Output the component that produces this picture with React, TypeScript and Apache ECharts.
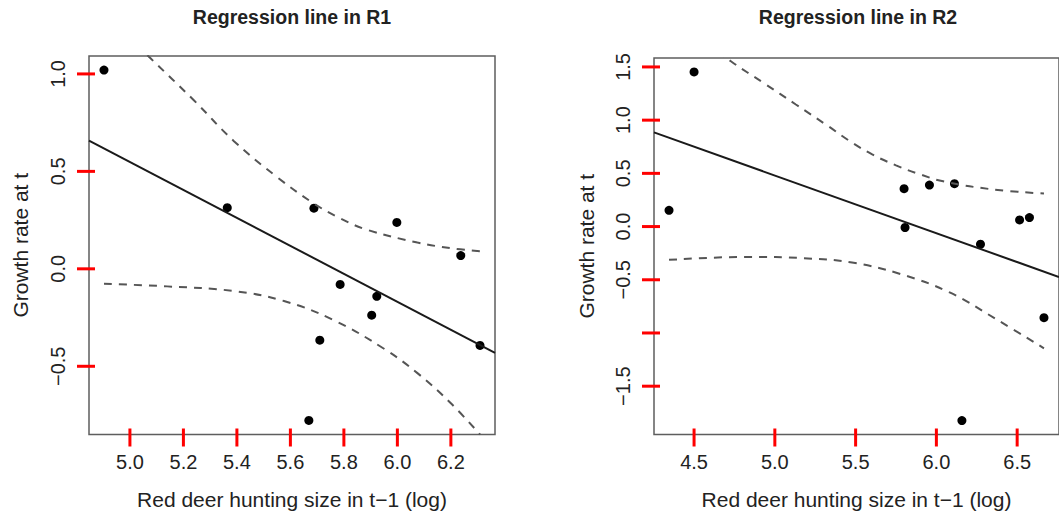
import { useEffect, useRef } from "react";
import * as echarts from "echarts";

const FONT = '"Liberation Sans", Arial, Helvetica, sans-serif';

// ---- Panel R1 ----
const r1Hunting = [4.903, 5.364, 5.688, 5.998, 6.237, 5.786, 5.923, 5.904, 5.71, 6.309, 5.669];
const r1Growth = [1.02, 0.314, 0.311, 0.238, 0.068, -0.08, -0.141, -0.238, -0.366, -0.393, -0.778];
const r1Fit = [
  [4.847, 0.658],
  [6.365, -0.431],
];
const r1Upper = [
  [4.903, 1.31], [5.077, 1.08], [5.239, 0.865], [5.389, 0.655], [5.551, 0.47],
  [5.688, 0.335], [5.788, 0.258], [5.888, 0.2], [6.075, 0.135], [6.2, 0.106], [6.309, 0.09],
];
const r1Lower = [
  [4.903, -0.077], [5.139, -0.09], [5.389, -0.114], [5.576, -0.165], [5.763, -0.264],
  [5.95, -0.41], [6.075, -0.535], [6.2, -0.69], [6.309, -0.85],
];
const r1XTicks = [5.0, 5.2, 5.4, 5.6, 5.8, 6.0, 6.2];
const r1YTicks = [-0.5, 0, 0.5, 1.0];
const r1YLabels = [-0.5, 0, 0.5, 1.0];
const r1XRange = [4.847, 6.365];
const r1YRange = [-0.85, 1.092];

// ---- Panel R2 ----
const r2Hunting = [4.5, 4.345, 5.8, 5.806, 5.957, 6.112, 6.273, 6.158, 6.515, 6.576, 6.666];
const r2Growth = [1.453, 0.153, 0.356, -0.009, 0.39, 0.403, -0.166, -1.823, 0.062, 0.084, -0.856];
const r2Fit = [
  [4.252, 0.885],
  [6.759, -0.474],
];
const r2Upper = [
  [4.345, 1.98], [4.728, 1.553], [4.93, 1.35], [5.13, 1.147], [5.33, 0.944], [5.457, 0.81],
  [5.6, 0.68], [5.75, 0.575], [5.9, 0.49], [6.042, 0.425], [6.344, 0.35], [6.666, 0.31],
];
const r2Lower = [
  [4.345, -0.313], [4.833, -0.285], [5.175, -0.297], [5.478, -0.338], [5.78, -0.447],
  [6.082, -0.619], [6.385, -0.884], [6.666, -1.144],
];
const r2XTicks = [4.5, 5.0, 5.5, 6.0, 6.5];
const r2YTicks = [-1.5, -1.0, -0.5, 0, 0.5, 1.0, 1.5];
const r2YLabels = [-1.5, -0.5, 0, 0.5, 1.0, 1.5];
const r2XRange = [4.252, 6.759];
const r2YRange = [-1.954, 1.584];

const titles = ["Regression line in R1", "Regression line in R2"];
const xName = "Red deer hunting size in t\u22121 (log)";
const yName = "Growth rate at t";

const fmt = (v: number) => v.toFixed(1).replace("-", "\u2212");
const pairs = (xs: number[], ys: number[]) => xs.map((x, i) => [x, ys[i]]);

const AXIS_COLOR = "#5e5e5e";
const TICK_COLOR = "#ff0000";
const TEXT_COLOR = "#222";
const TICK_LEN = 12;
const TICK_IN = 6;
const TICK_W = 3;

function xAxisFor(gridIndex: number, range: number[], ticks: number[]) {
  return {
    type: "value",
    gridIndex,
    min: range[0],
    max: range[1],
    axisLine: { show: false, onZero: false },
    axisTick: { show: false },
    splitLine: { show: false },
    axisLabel: {
      customValues: ticks,
      formatter: fmt,
      fontSize: 20,
      fontFamily: FONT,
      color: TEXT_COLOR,
      margin: 27,
      verticalAlign: "middle",
    },
    name: xName,
    nameLocation: "middle",
    nameGap: 65,
    nameTextStyle: { fontSize: 21, fontFamily: FONT, color: TEXT_COLOR, verticalAlign: "middle" },
  };
}

function yAxisFor(gridIndex: number, range: number[], labels: number[], nameGap: number) {
  return {
    type: "value",
    gridIndex,
    min: range[0],
    max: range[1],
    axisLine: { show: false, onZero: false },
    axisTick: { show: false },
    splitLine: { show: false },
    axisLabel: {
      customValues: labels,
      formatter: fmt,
      fontSize: 20,
      fontFamily: FONT,
      color: TEXT_COLOR,
      rotate: 90,
      align: "center",
      verticalAlign: "middle",
      margin: 31,
    },
    name: yName,
    nameLocation: "middle",
    nameGap,
    nameTextStyle: { fontSize: 21, fontFamily: FONT, color: TEXT_COLOR, verticalAlign: "middle" },
  };
}

// Tick marks along the bottom (dir "x") or left (dir "y") side of a plot box
function tickSeries(idx: number, data: number[][], dir: "x" | "y") {
  return {
    type: "custom",
    xAxisIndex: idx,
    yAxisIndex: idx,
    clip: false,
    silent: true,
    z: 10,
    data,
    renderItem: (_params: any, api: any) => {
      const p = api.coord([api.value(0), api.value(1)]);
      const shape =
        dir === "x"
          ? { x1: p[0], y1: p[1] - TICK_IN, x2: p[0], y2: p[1] + TICK_LEN }
          : { x1: p[0] + TICK_IN, y1: p[1], x2: p[0] - TICK_LEN, y2: p[1] };
      return { type: "line", shape, style: { stroke: TICK_COLOR, lineWidth: TICK_W } };
    },
  };
}

function panelSeries(idx: number, pts: number[][], fit: number[][], upper: number[][], lower: number[][]) {
  const dashed = { color: "#555", width: 2, type: [8, 7] };
  const band = {
    type: "line",
    xAxisIndex: idx,
    yAxisIndex: idx,
    smooth: 0.4,
    showSymbol: false,
    clip: true,
    lineStyle: dashed,
    silent: true,
  };
  return [
    { ...band, data: upper },
    { ...band, data: lower },
    {
      type: "line",
      xAxisIndex: idx,
      yAxisIndex: idx,
      data: fit,
      showSymbol: false,
      clip: true,
      lineStyle: { color: "#1a1a1a", width: 2 },
      silent: true,
    },
    {
      type: "scatter",
      xAxisIndex: idx,
      yAxisIndex: idx,
      data: pts,
      symbol: "circle",
      symbolSize: 9,
      itemStyle: { color: "#000", opacity: 1 },
      silent: true,
    },
  ];
}

function titleText(text: string, x: number) {
  return {
    type: "text",
    x,
    y: 17,
    silent: true,
    style: {
      text,
      fontSize: 19.5,
      fontWeight: "bold",
      fontFamily: FONT,
      fill: TEXT_COLOR,
      align: "center",
      verticalAlign: "middle",
    },
  };
}

export default function App() {
  const ref = useRef<HTMLDivElement>(null);

  useEffect(() => {
    if (!ref.current) return;
    const chart = echarts.init(ref.current, null, { renderer: "svg" });
    const gridStyle = { show: true, borderColor: AXIS_COLOR, borderWidth: 1.5, backgroundColor: "transparent" };
    chart.setOption({
      animation: false,
      backgroundColor: "#fff",
      grid: [
        { ...gridStyle, left: 89, top: 56, width: 406, height: 379 },
        { ...gridStyle, left: 654, top: 58, width: 415, height: 377 },
      ],
      xAxis: [xAxisFor(0, r1XRange, r1XTicks), xAxisFor(1, r2XRange, r2XTicks)],
      yAxis: [yAxisFor(0, r1YRange, r1YLabels, 68.5), yAxisFor(1, r2YRange, r2YLabels, 67.5)],
      series: [
        ...panelSeries(0, pairs(r1Hunting, r1Growth), r1Fit, r1Upper, r1Lower),
        ...panelSeries(1, pairs(r2Hunting, r2Growth), r2Fit, r2Upper, r2Lower),
        tickSeries(0, r1XTicks.map((v) => [v, r1YRange[0]]), "x"),
        tickSeries(0, r1YTicks.map((v) => [r1XRange[0], v]), "y"),
        tickSeries(1, r2XTicks.map((v) => [v, r2YRange[0]]), "x"),
        tickSeries(1, r2YTicks.map((v) => [r2XRange[0], v]), "y"),
      ],
      graphic: [titleText(titles[0], 292), titleText(titles[1], 858)],
    });
    return () => chart.dispose();
  }, []);

  return (
    <div
      ref={ref}
      style={{ position: "absolute", left: 0, top: 0, width: 1059, height: 515, overflow: "hidden" }}
    />
  );
}
